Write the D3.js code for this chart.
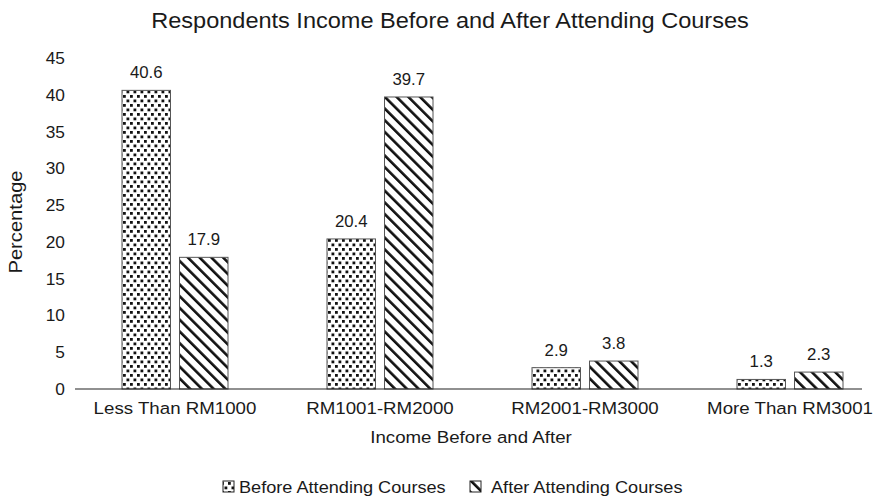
<!DOCTYPE html>
<html>
<head>
<meta charset="utf-8">
<script src="https://cdn.jsdelivr.net/npm/d3@7"></script>
<style>
  body { margin: 0; background: #fff; }
  text { font-family: "Liberation Sans", Arial, Helvetica, sans-serif; fill: #1a1a1a; }
</style>
</head>
<body>
<svg id="chart" width="889" height="499"></svg>
<script>
// Income groups and the share of respondents (%) before / after the courses
const categories = ["Less Than RM1000", "RM1001-RM2000", "RM2001-RM3000", "More Than RM3001"];
const seriesNames = ["Before Attending Courses", "After Attending Courses"];
const beforeValues = [40.6, 20.4, 2.9, 1.3];
const afterValues = [17.9, 39.7, 3.8, 2.3];
const yTicks = [0, 5, 10, 15, 20, 25, 30, 35, 40, 45];

const titleText = "Respondents Income Before and After Attending Courses";
const xTitle = "Income Before and After";
const yTitle = "Percentage";

const rows = categories.map((c, i) => ({
  category: c,
  values: [
    { series: seriesNames[0], value: beforeValues[i] },
    { series: seriesNames[1], value: afterValues[i] }
  ]
}));

const svg = d3.select("#chart");

function label(parent, x, y, str, size, anchor = "middle", sx = 1.1) {
  return parent.append("text")
    .attr("transform", `translate(${x},${y}) scale(${sx},1)`)
    .attr("text-anchor", anchor)
    .attr("font-size", size)
    .text(str);
}

// Fill patterns: dotted checker and diagonal hatch
const defs = svg.append("defs");
const dots = defs.append("pattern")
  .attr("id", "dots").attr("patternUnits", "userSpaceOnUse")
  .attr("width", 7).attr("height", 9);
dots.append("rect").attr("width", 7).attr("height", 9).attr("fill", "#fff");
dots.append("rect").attr("x", 0.5).attr("y", 0.5).attr("width", 2.8).attr("height", 2.8).attr("fill", "#111");
dots.append("rect").attr("x", 4).attr("y", 5).attr("width", 2.8).attr("height", 2.8).attr("fill", "#111");

const hatch = defs.append("pattern")
  .attr("id", "hatch").attr("patternUnits", "userSpaceOnUse")
  .attr("width", 8.3).attr("height", 8.3)
  .attr("patternTransform", "rotate(-45)");
hatch.append("rect").attr("width", 8.3).attr("height", 8.3).attr("fill", "#fff");
hatch.append("rect").attr("x", 0).attr("y", 0).attr("width", 2.6).attr("height", 8.3).attr("fill", "#111");

const fills = d3.scaleOrdinal().domain(seriesNames).range(["url(#dots)", "url(#hatch)"]);

// Scales
const y = d3.scaleLinear().domain([0, 45]).range([389, 58]);
const x0 = d3.scalePoint().domain(categories).range([175, 790]);
const x1 = d3.scaleBand().domain(seriesNames).range([-53, 53]).paddingInner(0.157);

// Y tick labels (no axis line, no tick marks)
const yAxis = svg.append("g").attr("transform", "translate(65,0)")
  .call(d3.axisLeft(y).tickValues(yTicks).tickSize(0).tickPadding(0));
yAxis.select(".domain").remove();
yAxis.selectAll("text").remove();
yTicks.forEach(t => label(yAxis, 0, y(t) + 6, String(t), 16.5, "end", 1.05));

// Bars
const groups = svg.append("g").selectAll("g")
  .data(rows).join("g")
  .attr("transform", d => `translate(${x0(d.category)},0)`);

groups.selectAll("rect")
  .data(d => d.values).join("rect")
  .attr("x", d => x1(d.series))
  .attr("y", d => y(d.value))
  .attr("width", x1.bandwidth())
  .attr("height", d => y(0) - y(d.value))
  .attr("fill", d => fills(d.series))
  .attr("stroke", "#555")
  .attr("stroke-width", 1);

groups.each(function (d) {
  const g = d3.select(this);
  d.values.forEach(v => {
    label(g, x1(v.series) + x1.bandwidth() / 2, y(v.value) - 12, v.value.toFixed(1), 16, "middle", 1.05);
  });
});

// X axis line
const xAxis = svg.append("g").attr("transform", `translate(0,${y(0)})`);
xAxis.append("line").attr("x1", 75).attr("x2", 862)
  .attr("stroke", "#222").attr("stroke-width", 1.2);
categories.forEach(c => label(xAxis, x0(c), 25, c, 17));

// Titles
label(svg, 450, 28, titleText, 22, "middle", 1.07);
label(svg, 471, 443, xTitle, 17);
svg.append("text")
  .attr("transform", "translate(22,222) rotate(-90) scale(1.12,1)")
  .attr("text-anchor", "middle").attr("font-size", 18)
  .text(yTitle);

// Legend
const legend = svg.append("g");
const legendItems = [
  { name: seriesNames[0], x: 223, dx: 16 },
  { name: seriesNames[1], x: 470, dx: 21 }
];
legendItems.forEach(it => {
  legend.append("rect")
    .attr("x", it.x).attr("y", 481).attr("width", 11).attr("height", 11)
    .attr("fill", fills(it.name)).attr("stroke", "#222").attr("stroke-width", 1);
  label(legend, it.x + it.dx, 492.5, it.name, 16.5, "start", 1.1);
});
</script>
</body>
</html>
